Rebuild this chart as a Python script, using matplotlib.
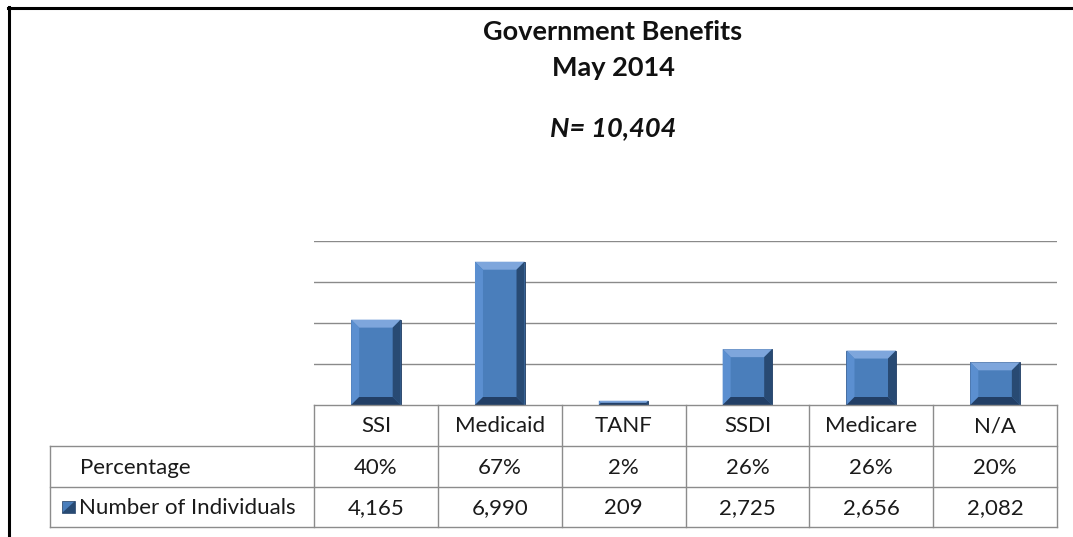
import matplotlib
matplotlib.use("Agg")
import matplotlib.pyplot as plt
from matplotlib.patches import Polygon, Rectangle
from matplotlib.lines import Line2D

categories = ["SSI", "Medicaid", "TANF", "SSDI", "Medicare", "N/A"]
percentages = ["40%", "67%", "2%", "26%", "26%", "20%"]
individuals = [4165, 6990, 209, 2725, 2656, 2082]
title_lines = ["Government Benefits", "May 2014"]
subtitle = "N= 10,404"
row_labels = ["Percentage", "Number of Individuals"]

W, H = 1073, 537
FONT = "Lato"
plt.rcParams['font.family'] = [FONT, 'DejaVu Sans']

fig = plt.figure(figsize=(W / 100, H / 100), dpi=100)
fig.patch.set_facecolor("white")

# pixel layout
px_left, px_right = 314, 1057
px_top, px_bottom = 241, 405
ymax = 8000

ax = fig.add_axes([px_left / W, 1 - px_bottom / H, (px_right - px_left) / W, (px_bottom - px_top) / H])
ax.set_xlim(-0.5, len(categories) - 0.5)
ax.set_ylim(0, ymax)
ax.set_yticks([2000, 4000, 6000, 8000])
ax.yaxis.grid(True, color="#8a8a8a", linewidth=1.0)
ax.set_axisbelow(True)
ax.tick_params(left=False, bottom=False, labelleft=False, labelbottom=False)
for s in ax.spines.values():
    s.set_visible(False)
ax.patch.set_alpha(0)

face = "#4a7ebb"
top_c = "#7ea6dc"
left_c = "#5b8fd0"
right_c = "#284a73"
bot_c = "#223f66"
bw = 0.40
px_per_x = (px_right - px_left) / len(categories)
px_per_y = (px_bottom - px_top) / ymax
bev_px = 8

bars = ax.bar(range(len(categories)), individuals, width=bw, color=face,
              edgecolor="#1f3a5f", linewidth=0.6, zorder=3)
for b in bars:
    x0 = b.get_x(); x1 = x0 + b.get_width(); h = b.get_height()
    bx = bev_px / px_per_x
    by = min(bev_px / px_per_y, h / 2)
    bxx = min(bx, by * px_per_y / px_per_x) if h / 2 < bev_px / px_per_y else bx
    polys = [
        ([(x0, h), (x1, h), (x1 - bxx, h - by), (x0 + bxx, h - by)], top_c),
        ([(x0, 0), (x0, h), (x0 + bxx, h - by), (x0 + bxx, by)], left_c),
        ([(x1, 0), (x1, h), (x1 - bxx, h - by), (x1 - bxx, by)], right_c),
        ([(x0, 0), (x1, 0), (x1 - bxx, by), (x0 + bxx, by)], bot_c),
    ]
    for pts, c in polys:
        ax.add_patch(Polygon(pts, closed=True, facecolor=c, edgecolor="none", zorder=4))

# overlay axes in pixel coordinates for titles, table and border
ov = fig.add_axes([0, 0, 1, 1])
ov.set_xlim(0, W)
ov.set_ylim(H, 0)
ov.axis("off")
ov.patch.set_alpha(0)

# border (top and left)
ov.add_line(Line2D([8, W], [7.5, 7.5], color="black", linewidth=2.2))
ov.add_line(Line2D([8.5, 8.5], [7, H], color="black", linewidth=2.2))

# titles
cx = 613
ov.text(cx, 32, title_lines[0], ha="center", va="center", fontsize=19.5, fontweight="bold", color="#111111")
ov.text(cx, 68, title_lines[1], ha="center", va="center", fontsize=19.5, fontweight="bold", color="#111111")
ov.text(cx, 128, subtitle, ha="center", va="center", fontsize=19.5, fontweight="bold",
        fontstyle="italic", color="#111111")

# table
gc = "#8c8c8c"
lw = 1.0
row_y = [405, 446, 487, 527]
col_x = [px_left + i * px_per_x for i in range(len(categories) + 1)]
lab_left = 50
ov.add_line(Line2D([px_left, px_right], [row_y[0], row_y[0]], color=gc, lw=lw))
for yy in row_y[1:]:
    ov.add_line(Line2D([lab_left, px_right], [yy, yy], color=gc, lw=lw))
for xx in col_x:
    ov.add_line(Line2D([xx, xx], [row_y[0], row_y[3]], color=gc, lw=lw))
ov.add_line(Line2D([lab_left, lab_left], [row_y[1], row_y[3]], color=gc, lw=lw))

fs = 16
tc = "#1a1a1a"
for i, cat in enumerate(categories):
    xc = (col_x[i] + col_x[i + 1]) / 2
    ov.text(xc, (row_y[0] + row_y[1]) / 2 + 1, cat, ha="center", va="center", fontsize=fs, color=tc)
    ov.text(xc, (row_y[1] + row_y[2]) / 2 + 1, percentages[i], ha="center", va="center", fontsize=fs, color=tc)
    ov.text(xc, (row_y[2] + row_y[3]) / 2 + 1, f"{individuals[i]:,}", ha="center", va="center", fontsize=fs, color=tc)

ov.text(80, (row_y[1] + row_y[2]) / 2 + 1, row_labels[0], ha="left", va="center", fontsize=fs, color=tc)
ov.text(79, (row_y[2] + row_y[3]) / 2 + 1, row_labels[1], ha="left", va="center", fontsize=fs, color=tc)

# legend key
ky = (row_y[2] + row_y[3]) / 2
k0, k1 = 62, 75
ov.add_patch(Rectangle((k0, ky - 6), k1 - k0, 12, facecolor=face, edgecolor="#1f3a5f", lw=0.5))
ov.add_patch(Polygon([(k1, ky - 6), (k1, ky + 6), (k0, ky + 6)], closed=True, facecolor=right_c, edgecolor="none"))

fig.savefig("out.png", dpi=100, facecolor="white")
